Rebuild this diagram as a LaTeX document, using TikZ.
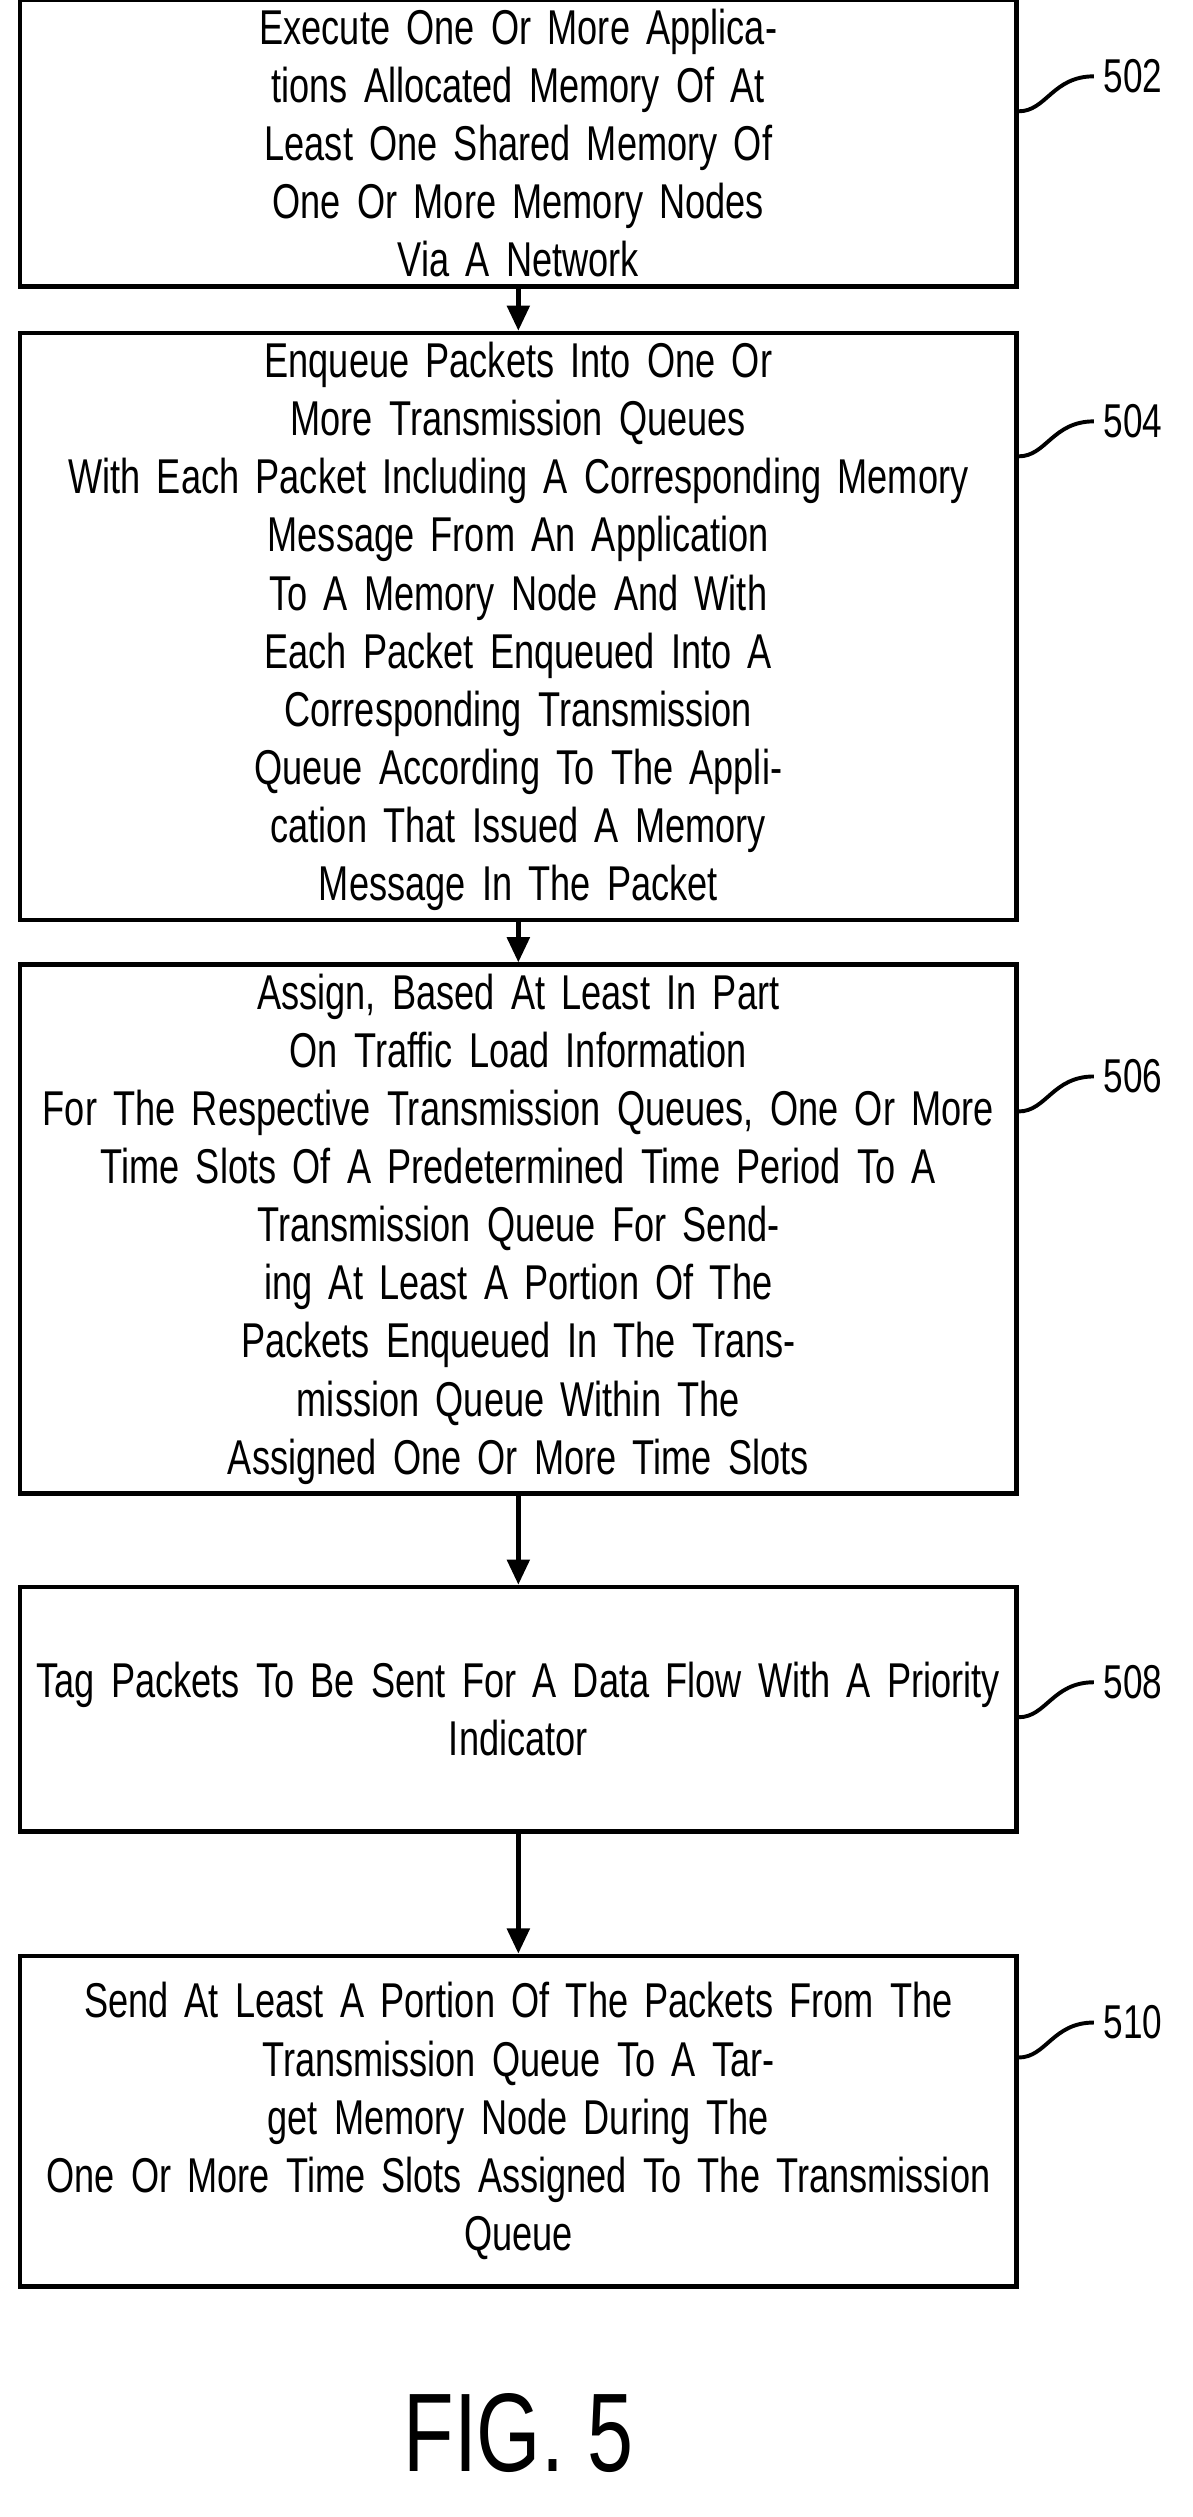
\documentclass[tikz,border=0pt]{standalone}
\usepackage{fontspec}
\setmainfont{Liberation Sans}[FakeStretch=0.74]
\usetikzlibrary{positioning, arrows.meta}

\begin{document}
\begin{tikzpicture}[x=0.02cm, y=-0.02cm,
  stepbox/.style={rectangle, draw, line width=1.6pt, minimum width=12.5cm, text width=12.3cm, align=center, font=\fontsize{17.5}{20.8}\selectfont},
  reflabel/.style={font=\fontsize{17}{20}\selectfont, anchor=west},
  flow/.style={-{Triangle[length=9pt, width=8pt]}, line width=1.6pt},
  lead/.style={line width=1.4pt}]
\useasboundingbox (0,0) rectangle (750,1583);

% Boxes
\node[stepbox, minimum height=3cm] (s502) at (326,90) {Execute One Or More Applications Allocated Memory Of At\\ Least One Shared Memory Of One Or More Memory Nodes\\ Via A Network};
\node[stepbox, minimum height=6.16cm] (s504) at (326,394) {Enqueue Packets Into One Or More Transmission Queues\\ With Each Packet Including A Corresponding Memory\\ Message From An Application To A Memory Node And With\\ Each Packet Enqueued Into A Corresponding Transmission\\ Queue According To The Application That Issued A Memory\\ Message In The Packet};
\node[stepbox, minimum height=5.94cm] (s506) at (326,773) {Assign, Based At Least In Part On Traffic Load Information\\ For The Respective Transmission Queues, One Or More\\ Time Slots Of A Predetermined Time Period To A\\ Transmission Queue For Sending At Least A Portion Of The\\ Packets Enqueued In The Transmission Queue Within The\\ Assigned One Or More Time Slots};
\node[stepbox, minimum height=3.08cm] (s508) at (326,1075) {Tag Packets To Be Sent For A Data Flow With A Priority\\ Indicator};
\node[stepbox, minimum height=4.16cm] (s510) at (326,1334) {Send At Least A Portion Of The Packets From The\\ Transmission Queue To A Target Memory Node During The\\ One Or More Time Slots Assigned To The Transmission\\ Queue};

% Arrows
\draw[flow] (s502) -- (s504);
\draw[flow] (s504) -- (s506);
\draw[flow] (s506) -- (s508);
\draw[flow] (s508) -- (s510);

% Reference numerals
\foreach \n/\y in {502/48, 504/265, 506/677, 508/1058, 510/1272} {
  \node[reflabel] (l\n) at (688,\y) {\n};
  \draw[lead] (s\n.east |- 0,\y+22) .. controls (658,\y+22) and (662,\y) .. (l\n.west);
}

\node[font=\fontsize{40}{40}\selectfont] (fig) at (326,1530) {FIG. 5};
\end{tikzpicture}
\end{document}
